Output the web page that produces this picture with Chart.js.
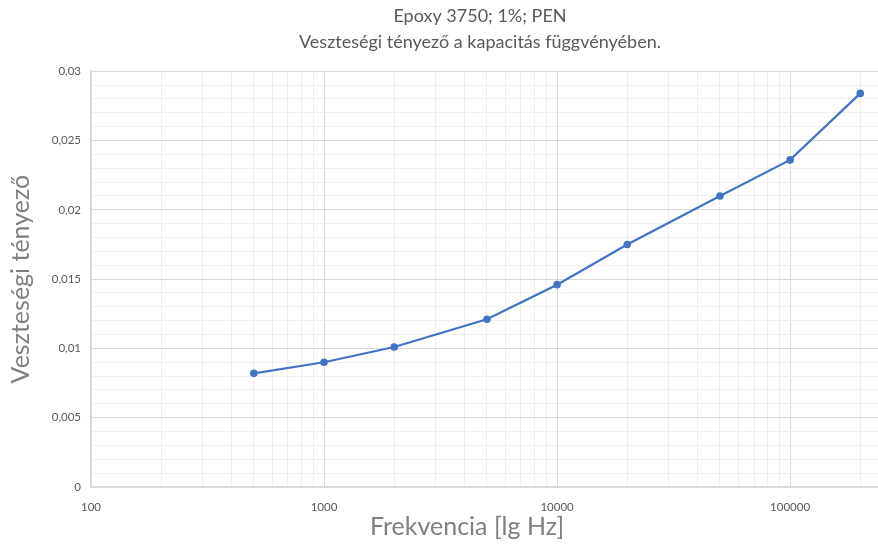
<!DOCTYPE html>
<html>
<head>
<meta charset="utf-8">
<script src="https://cdn.jsdelivr.net/npm/chart.js@4/dist/chart.umd.min.js"></script>
<style>
  html, body { margin: 0; padding: 0; background: #fff; overflow: hidden; }
  #wrap { width: 960px; height: 546px; }
</style>
</head>
<body>
<div id="wrap"><canvas id="chart" width="960" height="546"></canvas></div>
<script>
// Frequency (Hz) and loss factor
const frequencies = [500, 1000, 2000, 5000, 10000, 20000, 50000, 100000, 200000]
const lossFactor = [0.0082, 0.009, 0.0101, 0.0121, 0.0146, 0.0175, 0.021, 0.0236, 0.0284]

const titleLines = ["Epoxy 3750; 1%; PEN", "Veszteségi tényező a kapacitás függvényében."]
const xTitle = "Frekvencia [lg Hz]"
const yTitle = "Veszteségi tényező"

const xDecades = [100, 1000, 10000, 100000]
const xMinorSteps = [2, 3, 4, 5, 6, 7, 8, 9]
const yTickLabels = ["0", "0,005", "0,01", "0,015", "0,02", "0,025", "0,03"]

const ink = "#595959"
const inkLight = "#7f7f7f"
const gridMajor = "#d9d9d9"
const gridMinor = "#efefef"
const lineColor = "#4472c4"
const font = "Lato, 'Open Sans', sans-serif"

const xTickValues = []
xDecades.forEach((d) => {
  xTickValues.push(d)
  xMinorSteps.forEach((m) => xTickValues.push(d * m))
})

const isDecade = (v) => xDecades.includes(v)
const isMajorY = (v) => Math.abs(v * 200 - Math.round(v * 200)) < 1e-6

// x axis title sits a bit left of the plot centre, as in the source chart
const xTitlePlugin = {
  id: "xTitle",
  afterDraw(chart) {
    const { ctx } = chart
    ctx.save()
    ctx.font = `25px ${font}`
    ctx.fillStyle = inkLight
    ctx.textAlign = "center"
    ctx.textBaseline = "middle"
    ctx.fillText(xTitle, 467, 527)
    ctx.restore()
  }
}

new Chart(document.getElementById("chart"), {
  type: "line",
  data: {
    datasets: [{
      data: frequencies.map((f, i) => ({ x: f, y: lossFactor[i] })),
      borderColor: lineColor,
      backgroundColor: lineColor,
      borderWidth: 2.25,
      pointRadius: 3.8,
      pointBorderWidth: 0,
      tension: 0
    }]
  },
  options: {
    responsive: false,
    animation: false,
    layout: { padding: 0 },
    plugins: {
      legend: { display: false },
      tooltip: { enabled: false },
      title: {
        display: true,
        text: titleLines,
        color: ink,
        font: { family: font, size: 18, weight: "normal", lineHeight: 1.45 },
        padding: { top: 3, bottom: 16 }
      }
    },
    scales: {
      x: {
        type: "logarithmic",
        bounds: "data",
        min: 100,
        max: 515000,
        border: { color: gridMajor, width: 1.5 },
        grid: {
          drawTicks: false,
          color: (c) => isDecade(c.tick.value) ? gridMajor : gridMinor,
          lineWidth: 1
        },
        afterBuildTicks: (scale) => { scale.ticks = xTickValues.map((v) => ({ value: v })) },
        afterFit: (scale) => {
          scale.height = 59
          scale.paddingLeft = 0
          scale.paddingRight = 0
        },
        ticks: {
          autoSkip: false,
          maxRotation: 0,
          padding: 13,
          color: ink,
          font: { family: font, size: 11.5 },
          callback: (v) => isDecade(v) ? String(v) : ""
        }
      },
      y: {
        min: 0,
        max: 0.03,
        border: { color: gridMajor, width: 1.5 },
        grid: {
          drawTicks: false,
          color: (c) => isMajorY(c.tick.value) ? gridMajor : gridMinor,
          lineWidth: 1
        },
        afterFit: (scale) => { scale.width = 91 },
        title: {
          display: true,
          text: yTitle,
          color: inkLight,
          font: { family: font, size: 25 },
          padding: { top: 6, bottom: 0 }
        },
        ticks: {
          autoSkip: false,
          stepSize: 0.001,
          padding: 10,
          color: ink,
          font: { family: font, size: 11.5 },
          callback: (v) => isMajorY(v) ? yTickLabels[Math.round(v * 200)] : ""
        }
      }
    }
  },
  plugins: [xTitlePlugin]
})
</script>
</body>
</html>
